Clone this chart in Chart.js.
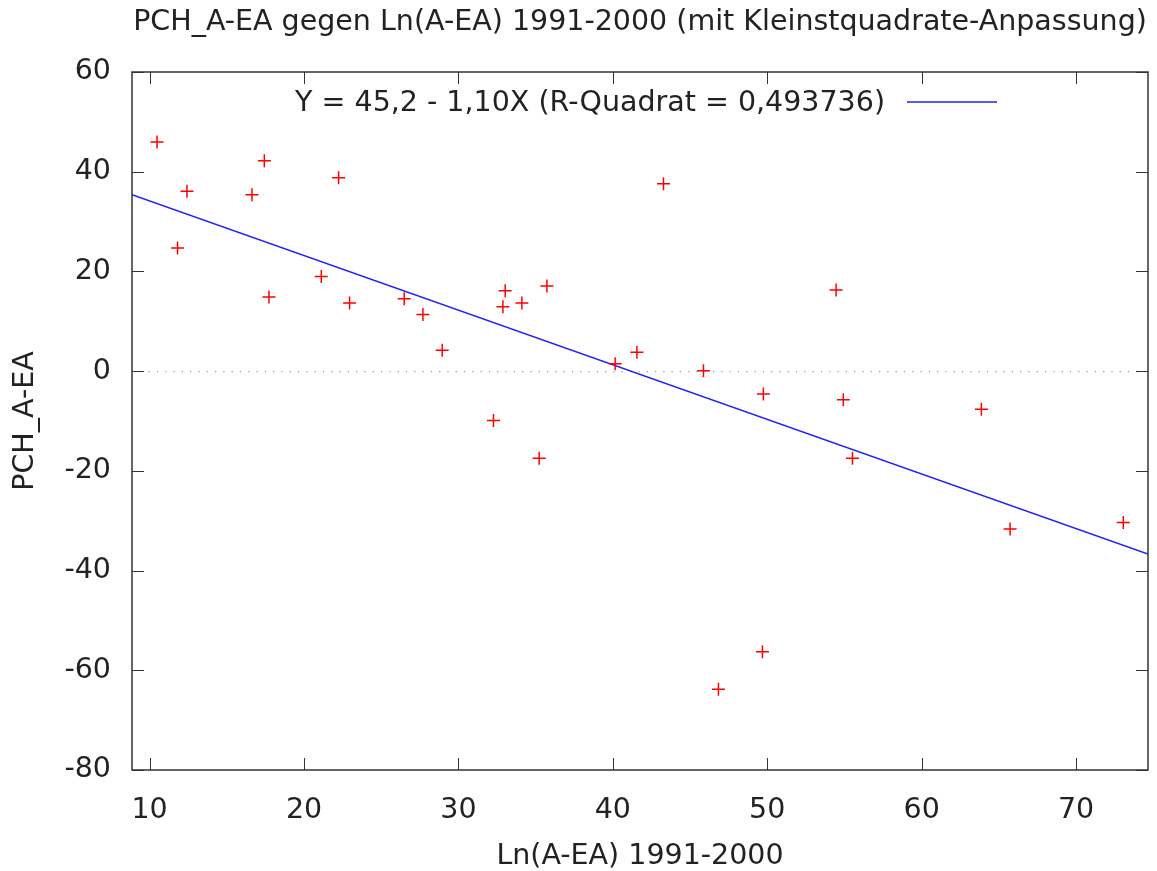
<!DOCTYPE html>
<html>
<head>
<meta charset="utf-8">
<script src="https://cdn.jsdelivr.net/npm/chart.js@4.4.0/dist/chart.umd.min.js"></script>
<style>
  body { margin: 0; background: #fff; }
  #wrap { width: 1157px; height: 871px; }
</style>
</head>
<body>
<div id="wrap"><canvas id="chart" width="1157" height="871"></canvas></div>
<script>
    // data
    const lnAEA = [10.48, 11.81, 12.42, 16.63, 17.43, 17.73, 21.12, 22.24, 22.95, 26.49,
        27.70, 28.95, 32.27, 32.88, 33.03, 34.11, 35.23, 35.73, 40.15, 41.56,
        43.28, 45.87, 46.84, 49.69, 49.75, 54.46, 54.93, 55.52, 63.87, 65.73, 73.06];
    const pchAEA = [45.96, 24.7, 36.1, 35.4, 42.2, 14.85, 19.0, 38.8, 13.65, 14.5,
        11.36, 4.2, -9.9, 12.9, 16.1, 13.65, -17.46, 17.06, 1.46, 3.8,
        37.6, 0.06, -63.8, -56.27, -4.56, 16.3, -5.76, -17.46, -7.63, -31.65, -30.38];

    // least squares line, ends at the plot edges
    const fitX = [8.86, 74.66];
    const fitY = [35.4, -36.7];

    const xTicks = [10, 20, 30, 40, 50, 60, 70];
    const yTicks = [-80, -60, -40, -20, 0, 20, 40, 60];

    const fitLabel = 'Y = 45,2 - 1,10X (R-Quadrat = 0,493736)';
    const FONT = "'DejaVu Sans', Verdana, sans-serif";
    const FS = 28.5;
    const TEXT = '#222';

    const scatterPoints = lnAEA.map((v, i) => ({x: v, y: pchAEA[i]}));
    const fitPoints = fitX.map((v, i) => ({x: v, y: fitY[i]}));

    // border box, inward ticks (mirrored) and the key inside the plot
    const gnuFrame = {
        id: 'gnuFrame',
        afterDatasetsDraw(chart) {
            const {ctx, chartArea: a, scales: {x, y}} = chart;
            const tl = 12;
            ctx.save();
            ctx.strokeStyle = '#333';
            ctx.lineWidth = 1;
            ctx.beginPath();
            x.ticks.forEach(t => {
                const px = Math.round(x.getPixelForValue(t.value)) + 0.5;
                ctx.moveTo(px, a.bottom); ctx.lineTo(px, a.bottom - tl);
                ctx.moveTo(px, a.top); ctx.lineTo(px, a.top + tl);
            });
            y.ticks.forEach(t => {
                const py = Math.round(y.getPixelForValue(t.value)) + 0.5;
                ctx.moveTo(a.left, py); ctx.lineTo(a.left + tl, py);
                ctx.moveTo(a.right, py); ctx.lineTo(a.right - tl, py);
            });
            ctx.stroke();
            ctx.lineWidth = 1.5;
            ctx.strokeRect(a.left, a.top, a.right - a.left, a.bottom - a.top);

            // key
            const ds = chart.data.datasets[1];
            const cx = (a.left + a.right) / 2;
            ctx.font = FS + 'px ' + FONT;
            ctx.fillStyle = TEXT;
            ctx.textAlign = 'right';
            ctx.textBaseline = 'middle';
            ctx.fillText(ds.label, cx + 245, a.top + 32);
            ctx.strokeStyle = ds.borderColor;
            ctx.lineWidth = ds.borderWidth;
            ctx.beginPath();
            ctx.moveTo(cx + 267, a.top + 30);
            ctx.lineTo(cx + 357, a.top + 30);
            ctx.stroke();
            ctx.restore();
        }
    };

    new Chart(document.getElementById('chart'), {
        type: 'scatter',
        data: {
            datasets: [{
                label: 'PCH_A-EA',
                data: scatterPoints,
                pointStyle: 'cross',
                pointRadius: 6.5,
                pointBorderWidth: 1.5,
                borderColor: '#ff0000',
                backgroundColor: '#ff0000',
                showLine: false
            }, {
                label: fitLabel,
                data: fitPoints,
                showLine: true,
                borderColor: '#2020ff',
                borderWidth: 1.5,
                pointRadius: 0,
                fill: false
            }]
        },
        options: {
            responsive: false,
            animation: false,
            layout: { padding: { left: 0, right: 9, top: 0, bottom: 0 } },
            plugins: {
                legend: { display: false },
                tooltip: { enabled: false },
                title: {
                    display: true,
                    text: 'PCH_A-EA gegen Ln(A-EA) 1991-2000 (mit Kleinstquadrate-Anpassung)',
                    fullSize: false,
                    color: TEXT,
                    font: { family: FONT, size: FS, weight: 'normal', lineHeight: 1.2 },
                    padding: { top: 5.5, bottom: 32.3 }
                }
            },
            scales: {
                x: {
                    type: 'linear',
                    min: fitX[0],
                    max: fitX[1],
                    afterBuildTicks: s => { s.ticks = xTicks.map(v => ({value: v})); },
                    afterFit: s => { s.height = 101; },
                    grid: { display: false },
                    border: { display: false },
                    ticks: {
                        color: TEXT,
                        padding: 15,
                        maxRotation: 0,
                        font: { family: FONT, size: FS }
                    },
                    title: {
                        display: true,
                        text: 'Ln(A-EA) 1991-2000',
                        color: TEXT,
                        font: { family: FONT, size: FS, lineHeight: 1 },
                        padding: { top: 0, bottom: 0 }
                    }
                },
                y: {
                    type: 'linear',
                    min: -80,
                    max: 60,
                    afterBuildTicks: s => { s.ticks = yTicks.map(v => ({value: v})); },
                    afterFit: s => { s.width = 132; },
                    grid: {
                        drawTicks: false,
                        lineWidth: 1.2,
                        color: c => c.tick && c.tick.value === 0 ? '#999' : 'rgba(0,0,0,0)'
                    },
                    border: { display: false, dash: [1.2, 7.1] },
                    ticks: {
                        color: TEXT,
                        padding: 21,
                        font: { family: FONT, size: FS }
                    },
                    title: {
                        display: true,
                        text: 'PCH_A-EA',
                        color: TEXT,
                        font: { family: FONT, size: FS, lineHeight: 1.2 },
                        padding: { top: 8, bottom: 0 }
                    }
                }
            }
        },
        plugins: [gnuFrame]
    });
</script>
</body>
</html>
